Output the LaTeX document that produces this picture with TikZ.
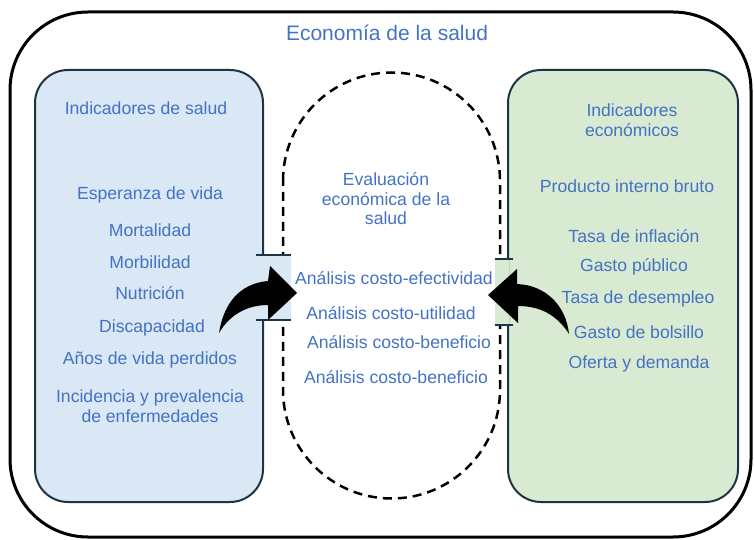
\documentclass[tikz,border=0pt]{standalone}
\usepackage{fontspec}
\setmainfont{Liberation Sans}
\usetikzlibrary{positioning}
\definecolor{txtblue}{HTML}{4472C4}
\definecolor{boxblue}{HTML}{DAE7F4}
\definecolor{boxgreen}{HTML}{D9EAD3}
\definecolor{edgeblue}{HTML}{1C3444}

\begin{document}
\begin{tikzpicture}[x=1pt, y=-1pt,
  lbl/.style={text=txtblue, font=\fontsize{17.6}{19.5}\selectfont, align=center, inner sep=0pt},
  panel/.style={draw=edgeblue, line width=2pt, rounded corners=33pt},
  tabline/.style={draw=edgeblue, line width=2pt}]
 \useasboundingbox (0,0) rectangle (754,540);
 \draw[line width=3pt, rounded corners=78pt] (10,12) rectangle (751,537);

 \draw[panel, fill=boxblue] (35,70) rectangle (263,502);
 \draw[panel, fill=boxgreen] (508,70) rectangle (738,502);
 \draw[line width=2.5pt, dash pattern=on 9pt off 6pt]
   (283,181) arc (180:360:108.5) -- (500,390) arc (0:180:108.5) -- cycle;

 \fill[boxblue] (262,255) rectangle (291,320);
 \draw[tabline] (256,255) -- (291,255);
 \draw[tabline] (256,320) -- (291,320);
 \fill[boxgreen] (495,259) rectangle (509,325);
 \draw[tabline] (495,259) -- (513,259);
 \draw[tabline] (495,325) -- (513,325);

 \fill (219,333) .. controls (225,296) and (246,283) .. (268,281) -- (270,266) -- (297,293)
   -- (268,320) -- (268,305) .. controls (248,305) and (230,314) .. cycle;
 \fill (569,334) .. controls (566,305) and (545,285) .. (517,284) -- (517,269) -- (488,295)
   -- (518,323) -- (518,306) .. controls (540,306) and (557,315) .. cycle;

 \node[lbl, font=\fontsize{21}{24}\selectfont] (title) at (387,33) {Economía de la salud};

 \node[lbl] (salud) at (146,108) {Indicadores de salud};
 \node[lbl] (vida) at (150,195) {Esperanza de vida};
 \node[lbl] (mort) at (150,230) {Mortalidad};
 \node[lbl] (morb) at (150,262) {Morbilidad};
 \node[lbl] (nutr) at (150,293) {Nutrición};
 \node[lbl] (disc) at (152,328) {Discapacidad};
 \node[lbl] (anos) at (150,360) {Años de vida perdidos};
 \node[lbl] (inci) at (150,406) {Incidencia y prevalencia\\de enfermedades};

 \node[lbl] (eval) at (386,199) {Evaluación\\económica de la\\salud};
 \node[lbl] (acea) at (394,278) {Análisis costo-efectividad};
 \node[lbl] (acua) at (391,313) {Análisis costo-utilidad};
 \node[lbl] (acba) at (399,342) {Análisis costo-beneficio};
 \node[lbl] (acbb) at (396,377) {Análisis costo-beneficio};

 \node[lbl] (econ) at (632,120) {Indicadores\\económicos};
 \node[lbl] (pib) at (627,186) {Producto interno bruto};
 \node[lbl] (infl) at (634,236) {Tasa de inflación};
 \node[lbl] (gpub) at (634,267) {Gasto público};
 \node[lbl] (desm) at (638,299) {Tasa de desempleo};
 \node[lbl] (gbol) at (639,332) {Gasto de bolsillo};
 \node[lbl] (ofer) at (639,364) {Oferta y demanda};
\end{tikzpicture}
\end{document}
